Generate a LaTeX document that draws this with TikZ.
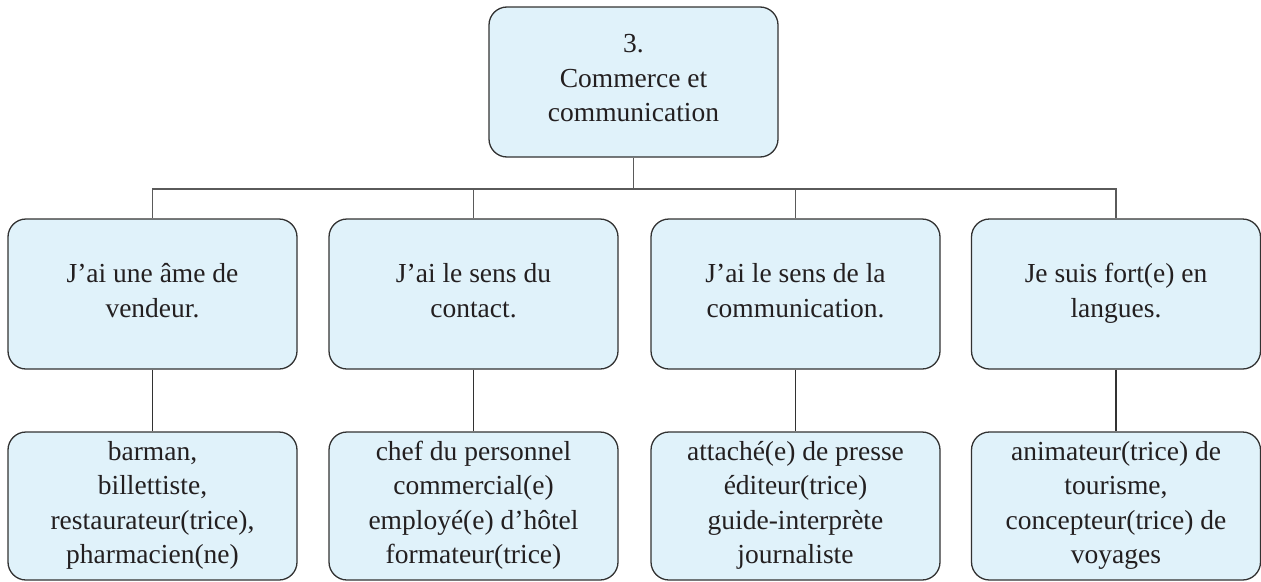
\documentclass[tikz,border=0pt]{standalone}
\usepackage{fontspec}
\setmainfont{Liberation Serif}
\usepackage{tikz}
\usetikzlibrary{calc}
\definecolor{boxfill}{RGB}{224,242,250}
\definecolor{boxline}{RGB}{50,50,50}
\definecolor{linkgray}{RGB}{90,90,90}
\definecolor{inkgray}{RGB}{35,31,32}
\tikzset{
  card/.style={draw=boxline, line width=1.3pt, fill=boxfill, rounded corners=18pt,
    minimum width=289pt, minimum height=150pt, inner sep=0pt, align=center,
    text=inkgray, font=\fontsize{27.5}{34.5}\selectfont,
    execute at begin node={\rule{0pt}{27pt}},
    execute at end node={\rule[-7.5pt]{0pt}{7.5pt}}},
  link/.style={draw=linkgray, line width=1.8pt}
}
\begin{document}
\begin{tikzpicture}[x=1pt,y=-1pt]
\useasboundingbox (0,0) rectangle (1261,581);
\node[card] (top) at (633.5,82) {3.\\Commerce et\\communication};
\node[card] (m1) at (152.5,294) {J’ai une âme de\\vendeur.};
\node[card] (m2) at (473.5,294) {J’ai le sens du\\contact.};
\node[card] (m3) at (795.5,294) {J’ai le sens de la\\communication.};
\node[card] (m4) at (1116,294) {Je suis fort(e) en\\langues.};
\node[card, minimum height=148pt] (b1) at (152.5,506) {barman,\\billettiste,\\restaurateur(trice),\\pharmacien(ne)};
\node[card, minimum height=148pt] (b2) at (473.5,506) {chef du personnel\\commercial(e)\\employé(e) d’hôtel\\formateur(trice)};
\node[card, minimum height=148pt] (b3) at (795.5,506) {attaché(e) de presse\\éditeur(trice)\\guide-interprète\\journaliste};
\node[card, minimum height=148pt] (b4) at (1116,506) {animateur(trice) de\\tourisme,\\concepteur(trice) de\\voyages};
\coordinate (bus) at (633.5,189);
\draw[link] (top.south) -- (bus);
\foreach \i in {1,...,4} {
  \draw[link] (bus) -| (m\i.north);
  \draw[link, line width=1.4pt, draw=boxline] (m\i.south) -- (b\i.north);
}
\end{tikzpicture}
\end{document}
